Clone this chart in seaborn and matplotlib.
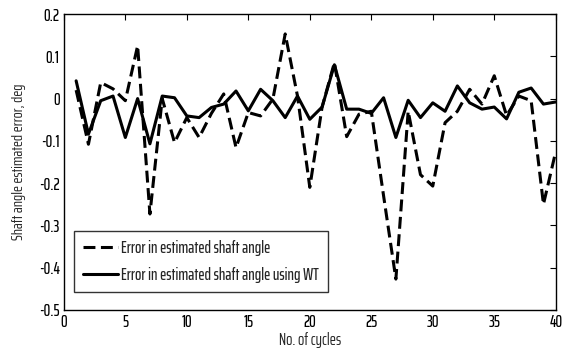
import matplotlib
matplotlib.use("Agg")
import matplotlib.pyplot as plt
import seaborn as sns
import pandas as pd

cycles = list(range(1, 41))
err_est = [0.02, -0.108, 0.038, 0.023, -0.005, 0.125, -0.273, 0.0, -0.104, -0.045,
           -0.092, -0.035, 0.011, -0.116, -0.033, -0.041, -0.001, 0.153, 0.006, -0.21,
           -0.02, 0.085, -0.09, -0.037, -0.03, -0.23, -0.427, -0.03, -0.18, -0.207,
           -0.057, -0.03, 0.022, -0.013, 0.054, -0.04, 0.006, -0.005, -0.25, -0.125]
err_wt = [0.042, -0.084, -0.005, 0.006, -0.092, 0.0, -0.107, 0.006, 0.002, -0.041,
          -0.045, -0.021, -0.013, 0.018, -0.029, 0.022, -0.005, -0.045, 0.006, -0.049,
          -0.02, 0.08, -0.025, -0.025, -0.035, 0.002, -0.092, -0.004, -0.045, -0.01,
          -0.03, 0.03, -0.01, -0.025, -0.02, -0.048, 0.015, 0.025, -0.013, -0.008]
labels = ["Error in estimated shaft angle", "Error in estimated shaft angle using WT"]
xticks = [0, 5, 10, 15, 20, 25, 30, 35, 40]
yticks = [-0.5, -0.4, -0.3, -0.2, -0.1, 0, 0.1, 0.2]
ytick_labels = ["-0.5", "-0.4", "-0.3", "-0.2", "-0.1", "0", "0.1", "0.2"]

sns.set_style("white")
plt.rcParams['font.family'] = ["Saira ExtraCondensed", "DejaVu Sans"]
plt.rcParams['font.weight'] = 500

df = pd.DataFrame({
    "cycle": cycles * 2,
    "err": err_est + err_wt,
    "series": [labels[0]] * len(cycles) + [labels[1]] * len(cycles),
})

fig = plt.figure(figsize=(5.7, 3.6), dpi=100)
ax = fig.add_axes([0.112, 0.139, 0.863, 0.822])
sns.lineplot(data=df, x="cycle", y="err", hue="series", style="series",
             palette=["black", "black"], dashes=[(3.9, 1.8), ""], linewidth=2.2,
             ax=ax, legend=True)

ax.set_xlim(0, 40)
ax.set_ylim(-0.5, 0.2)
ax.set_xticks(xticks)
ax.set_xticklabels([str(t) for t in xticks])
ax.set_yticks(yticks)
ax.set_yticklabels(ytick_labels)
ax.tick_params(direction="in", top=True, right=True, length=4, width=0.8,
               labelsize=12, colors="black", pad=3)
for s in ax.spines.values():
    s.set_color("black")
    s.set_linewidth(1.0)
ax.set_xlabel("No. of cycles", fontsize=12, labelpad=1)
ax.set_ylabel("Shaft angle estimated error, deg", fontsize=11.5, labelpad=9)

leg = ax.legend(loc="lower left", bbox_to_anchor=(0.02, 0.061), fontsize=12,
                frameon=True, fancybox=False, handlelength=2.1, borderpad=0.55,
                labelspacing=0.65, borderaxespad=0, handletextpad=0.2)
leg.get_frame().set_edgecolor("black")
leg.get_frame().set_linewidth(1.0)

fig.savefig("out.png", dpi=100)
